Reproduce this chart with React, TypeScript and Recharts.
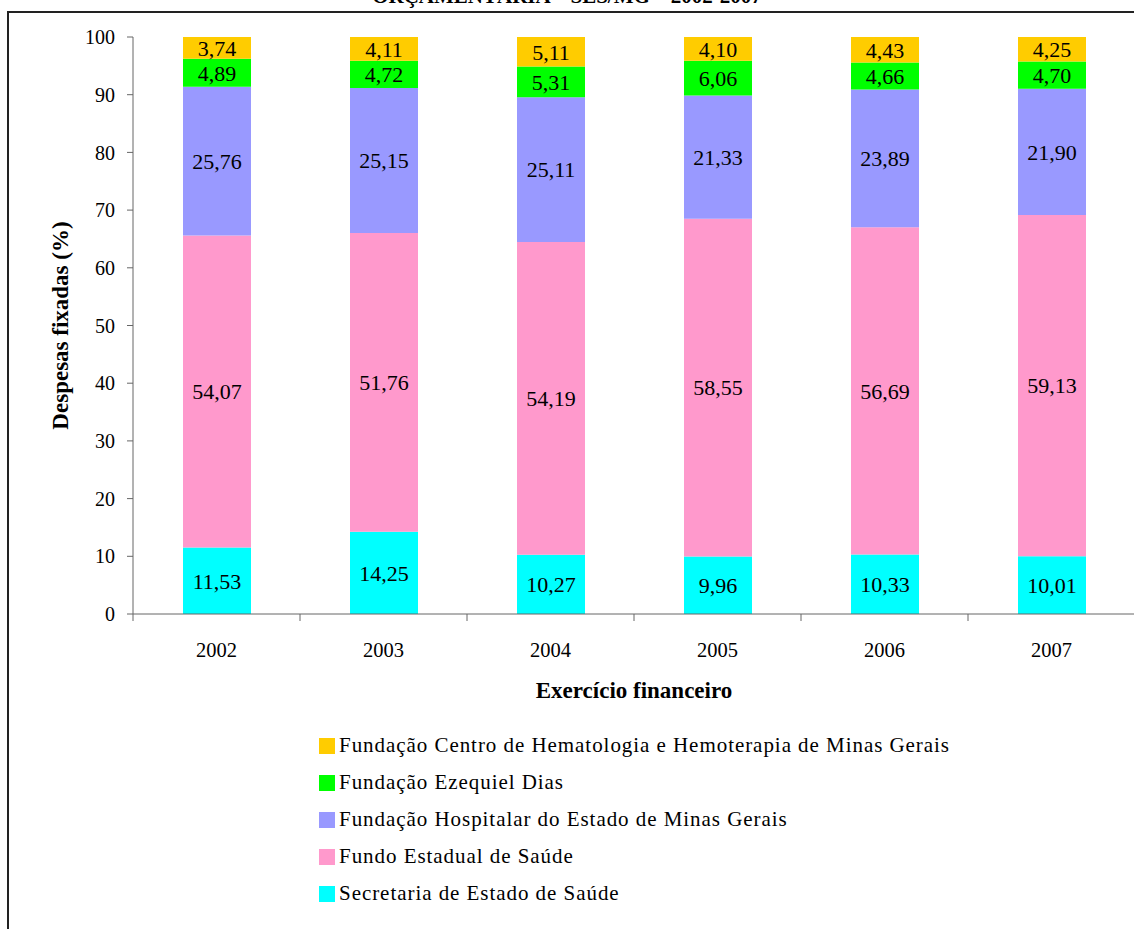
import React from "react";
import { Bar, BarChart, LabelList, XAxis, YAxis } from "recharts";

const years = ["2002", "2003", "2004", "2005", "2006", "2007"];
const secretaria = [11.53, 14.25, 10.27, 9.96, 10.33, 10.01];
const fundoEstadual = [54.07, 51.76, 54.19, 58.55, 56.69, 59.13];
const fhemig = [25.76, 25.15, 25.11, 21.33, 23.89, 21.9];
const funed = [4.89, 4.72, 5.31, 6.06, 4.66, 4.7];
const hemominas = [3.74, 4.11, 5.11, 4.1, 4.43, 4.25];
const yTicks = [0, 10, 20, 30, 40, 50, 60, 70, 80, 90, 100];

// stacked bottom -> top
const series = [
  { key: "secretaria", name: "Secretaria de Estado de Saúde", color: "#00FFFF", values: secretaria },
  { key: "fundo", name: "Fundo Estadual de Saúde", color: "#FF99CC", values: fundoEstadual },
  { key: "fhemig", name: "Fundação Hospitalar do Estado de Minas Gerais", color: "#9999FF", values: fhemig },
  { key: "funed", name: "Fundação Ezequiel Dias", color: "#00FF00", values: funed },
  {
    key: "hemominas",
    name: "Fundação Centro de Hematologia e Hemoterapia de Minas Gerais",
    color: "#FFCC00",
    values: hemominas,
  },
];

const data = years.map((year, i) => {
  const row: Record<string, string | number> = { year };
  series.forEach((s) => (row[s.key] = s.values[i]));
  return row;
});

const FONT = "Liberation Serif, Tinos, DejaVu Serif, serif";
const CHART_W = 1140;
const CHART_H = 929;
const PLOT_LEFT = 133;
const PLOT_RIGHT = 1135;
const PLOT_TOP = 37;
const PLOT_BOTTOM = 614;
const BAND = (PLOT_RIGHT - PLOT_LEFT) / years.length;
const AXIS_COLOR = "#666";

const fmt = (v: unknown) => Number(v).toFixed(2).replace(".", ",");

function YearTick(props: any) {
  const { x, payload, index } = props;
  const last = index === years.length - 1;
  return (
    <g>
      <line x1={x - BAND / 2} x2={x - BAND / 2} y1={PLOT_BOTTOM} y2={PLOT_BOTTOM + 7} stroke={AXIS_COLOR} />
      {last && (
        <line x1={x + BAND / 2} x2={x + BAND / 2} y1={PLOT_BOTTOM} y2={PLOT_BOTTOM + 7} stroke={AXIS_COLOR} />
      )}
      <text x={x} y={PLOT_BOTTOM + 43} textAnchor="middle" style={{ fontFamily: FONT, fontSize: 20.5 }} fill="#000">
        {payload.value}
      </text>
    </g>
  );
}

function YTitle(props: any) {
  const { viewBox } = props;
  const cx = 60;
  const cy = viewBox.y + viewBox.height / 2;
  return (
    <text
      x={cx}
      y={cy}
      transform={`rotate(-90 ${cx} ${cy})`}
      textAnchor="middle"
      dominantBaseline="central"
      style={{ fontFamily: FONT, fontSize: 23, fontWeight: "bold" }}
      fill="#000"
    >
      Despesas fixadas (%)
    </text>
  );
}

function XTitle(props: any) {
  const { viewBox } = props;
  const cx = viewBox.x + viewBox.width / 2;
  return (
    <text
      x={cx}
      y={PLOT_BOTTOM + 84}
      textAnchor="middle"
      style={{ fontFamily: FONT, fontSize: 23, fontWeight: "bold" }}
      fill="#000"
    >
      Exercício financeiro
    </text>
  );
}

export default function App() {
  return (
    <div
      style={{
        position: "absolute",
        left: 0,
        top: 0,
        width: 1134,
        height: 929,
        overflow: "hidden",
        background: "#fff",
        fontFamily: FONT,
      }}
    >
      <div
        style={{
          position: "absolute",
          left: 0,
          width: 1134,
          top: -16,
          textAlign: "center",
          fontSize: 21,
          fontWeight: "bold",
          lineHeight: "24px",
        }}
      >
        ORÇAMENTÁRIA – SES/MG – 2002-2007
      </div>
      <div
        style={{
          position: "absolute",
          left: 7,
          top: 11,
          width: 1200,
          height: 1000,
          border: "2px solid #222",
        }}
      />
      <div style={{ position: "absolute", left: 0, top: 0 }}>
        <BarChart
          width={CHART_W}
          height={CHART_H}
          data={data}
          margin={{ top: PLOT_TOP, right: CHART_W - PLOT_RIGHT, left: 0, bottom: CHART_H - PLOT_BOTTOM - 40 }}
        >
          <XAxis
            dataKey="year"
            height={40}
            axisLine={{ stroke: AXIS_COLOR }}
            tickLine={false}
            tick={<YearTick />}
            interval={0}
            label={<XTitle />}
          />
          <YAxis
            width={PLOT_LEFT}
            domain={[0, 100]}
            ticks={yTicks}
            interval={0}
            axisLine={{ stroke: AXIS_COLOR }}
            tickLine={{ stroke: AXIS_COLOR }}
            tickSize={6}
            tickMargin={12}
            tick={{ fontFamily: FONT, fontSize: 20, fill: "#000" }}
            label={<YTitle />}
          />
          {series.map((s) => (
            <Bar key={s.key} dataKey={s.key} name={s.name} stackId="a" fill={s.color} barSize={68} isAnimationActive={false}>
              <LabelList
                dataKey={s.key}
                position="center"
                formatter={fmt}
                style={{ fontFamily: FONT, fontSize: 22, fill: "#000" }}
              />
            </Bar>
          ))}
        </BarChart>
      </div>
      <div style={{ position: "absolute", left: 319, top: 727 }}>
        {[...series].reverse().map((s) => (
          <div key={s.key} style={{ display: "flex", alignItems: "center", height: 37 }}>
            <span style={{ width: 16, height: 16, background: s.color, marginRight: 4 }} />
            <span style={{ fontSize: 21, letterSpacing: 0.95, color: "#000", whiteSpace: "nowrap" }}>{s.name}</span>
          </div>
        ))}
      </div>
    </div>
  );
}
